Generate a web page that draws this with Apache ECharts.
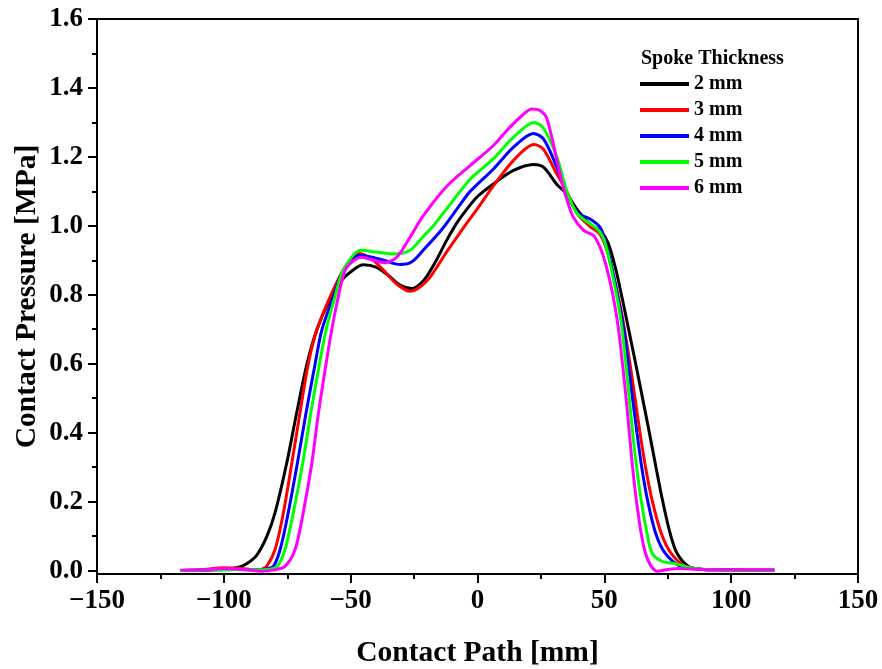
<!DOCTYPE html>
<html>
<head>
<meta charset="utf-8">
<script src="https://cdn.jsdelivr.net/npm/echarts@6/dist/echarts.min.js"></script>
<style>html,body{margin:0;padding:0;background:#fff}#c{width:882px;height:669px}</style>
</head>
<body>
<div id="c"></div>
<script>
// ---- data ----
const seriesNames = ['2 mm', '3 mm', '4 mm', '5 mm', '6 mm'];
const seriesColors = ['#000000', '#ff0000', '#0000ff', '#00ff00', '#ff00ff'];
const legendTitle = 'Spoke Thickness';
const xTitle = 'Contact Path [mm]';
const yTitle = 'Contact Pressure [MPa]';
const yMajorTicks = [0, 0.2, 0.4, 0.6, 0.8, 1.0, 1.2, 1.4, 1.6];
const yMinorTicks = [0.1, 0.3, 0.5, 0.7, 0.9, 1.1, 1.3, 1.5];

const x2 = [-117,-108,-100,-95,-91,-87,-83,-79.8,-75.2,-71.3,-67.2,-63.4,-58.9,-53.5,-49,-45,-40,-35,-30.5,-26,-21.4,-17,-12,-8,-4,0,6,14,22,26,31.3,35,40,45,48.5,51.5,54.3,57.2,59.9,62.6,65.2,67.8,70.3,72.9,75.9,78.6,83.2,88,95,105,117];
const y2 = [0,0.001,0.004,0.008,0.02,0.045,0.1,0.168,0.312,0.457,0.6,0.697,0.775,0.842,0.872,0.887,0.88,0.855,0.828,0.818,0.84,0.89,0.96,1.01,1.05,1.085,1.12,1.16,1.178,1.17,1.12,1.094,1.04,1.0,0.985,0.95,0.88,0.784,0.688,0.591,0.495,0.398,0.302,0.205,0.109,0.051,0.012,0.004,0.002,0.001,0.001];

const x3 = [-117,-108,-100,-93,-88,-85,-83.1,-79.8,-76.5,-73.2,-70,-66.7,-63.4,-58.1,-52.9,-47,-42,-37,-32,-26.6,-20,-12.1,-5,0,6.2,14.2,22.3,26,31.3,35.2,39.2,44.4,48,50.5,52.8,55,57,58.6,60.3,62.2,64.1,66.2,68.8,72.4,76.2,81.9,88,95,105,117];
const y3 = [0,0.003,0.008,0.006,0.003,0.004,0.012,0.061,0.168,0.312,0.457,0.6,0.697,0.794,0.871,0.92,0.905,0.871,0.832,0.81,0.84,0.925,1.0,1.05,1.115,1.19,1.236,1.222,1.15,1.1,1.036,0.998,0.978,0.94,0.88,0.81,0.74,0.67,0.591,0.495,0.398,0.302,0.205,0.109,0.051,0.012,0.004,0.002,0.001,0.001];

const x4 = [-117,-105,-95,-88,-84,-80.5,-77.8,-74.6,-71,-67.6,-64,-61.4,-56.8,-52.9,-47,-42,-37,-30.5,-26,-21.3,-14,-7,-2.9,6.3,14.2,22,26,31.3,36.5,40,44.4,48.3,50.3,52.3,54.2,56.1,57.9,59.6,61.2,62.9,64.7,67,70.2,73.9,80,88,95,105,117];
const y4 = [0,0.002,0.003,0.002,0.004,0.012,0.061,0.168,0.312,0.457,0.6,0.697,0.794,0.871,0.914,0.91,0.9,0.888,0.895,0.93,0.99,1.06,1.1,1.165,1.228,1.268,1.252,1.17,1.074,1.035,1.02,0.996,0.958,0.9,0.835,0.765,0.688,0.591,0.495,0.398,0.302,0.205,0.109,0.051,0.012,0.004,0.002,0.001,0.001];

const x5 = [-117,-105,-95,-88,-82,-78.9,-75.9,-72.6,-68.9,-65.7,-62.3,-59.7,-56.2,-52.9,-46,-40,-33,-26.6,-21.3,-17.4,-12.1,-2.9,6.3,14.2,22.3,26,31.3,35.2,39.2,44.4,48,50.3,52.3,54,55.7,57.2,58.6,59.9,61.2,62.7,64.5,66.8,68.8,72.7,78,84,90,100,117];
const y5 = [0,0.002,0.003,0.002,0.004,0.012,0.061,0.168,0.312,0.457,0.6,0.697,0.794,0.871,0.929,0.924,0.918,0.929,0.97,1.0,1.05,1.135,1.195,1.257,1.3,1.283,1.2,1.1,1.036,1.006,0.985,0.95,0.89,0.83,0.765,0.688,0.591,0.495,0.398,0.302,0.205,0.109,0.051,0.027,0.02,0.008,0.003,0.001,0.001];

const x6 = [-117,-108,-100,-92,-85,-80,-75.9,-71.9,-68.7,-65.3,-62.7,-59.7,-57.5,-54.9,-52.2,-49,-45.6,-41,-36.5,-31.8,-26.6,-21.3,-12.1,-2.9,6.3,11.5,16.8,21.4,24.5,27.3,31.3,33.5,35.5,37.8,41.8,45.7,48.3,50.3,52.2,54,55.6,57,58.3,59.6,61,62.6,64.5,66.2,68.5,71,75,80,88,100,117];
const y6 = [0.001,0.002,0.006,0.003,-0.002,0.002,0.012,0.061,0.168,0.312,0.457,0.6,0.697,0.794,0.871,0.898,0.909,0.9,0.893,0.909,0.967,1.03,1.115,1.175,1.233,1.276,1.315,1.339,1.335,1.312,1.19,1.12,1.07,1.025,0.987,0.972,0.938,0.895,0.84,0.775,0.70,0.61,0.52,0.42,0.31,0.205,0.109,0.051,0.012,-0.002,0.003,0.006,0.003,0.002,0.002];

const xs = [x2, x3, x4, x5, x6];
const ys = [y2, y3, y4, y5, y6];

// ---- chart ----
const FONT = '"Liberation Serif","Times New Roman",serif';
const chart = echarts.init(document.getElementById('c'), null, {renderer: 'canvas'});
const minusFmt = v => String(v).replace('-', '\u2212');

const series = seriesNames.map((n, i) => ({
  name: n,
  type: 'line',
  data: xs[i].map((x, j) => [x, ys[i][j]]),
  smooth: 0.3,
  symbol: 'none',
  lineStyle: {color: seriesColors[i], width: 3},
  itemStyle: {color: seriesColors[i]},
  xAxisIndex: 0,
  yAxisIndex: 0
}));

chart.setOption({
  animation: false,
  backgroundColor: '#fff',
  grid: {left: 97, top: 19, right: 24, bottom: 95, outerBoundsMode: 'none', containLabel: false,
    show: true, borderColor: '#000', borderWidth: 2, backgroundColor: 'transparent'},
  legend: {
    data: seriesNames,
    orient: 'vertical',
    left: 640, top: 74, padding: 0,
    itemWidth: 49, itemHeight: 14, itemGap: 6,
    textStyle: {fontFamily: FONT, fontWeight: 'bold', fontSize: 20, color: '#000'},
    icon: 'path://M0,6 L49,6 L49,10 L0,10 Z'
  },
  graphic: [{
    type: 'text', left: 641, top: 49,
    style: {text: legendTitle, font: 'bold 20px ' + FONT, fill: '#000'}
  }],
  xAxis: {
    type: 'value', min: -150, max: 150, interval: 50,
    name: xTitle, nameLocation: 'middle', nameGap: 64, nameMoveOverlap: false,
    nameTextStyle: {fontFamily: FONT, fontWeight: 'bold', fontSize: 29.5, color: '#000'},
    axisLine: {show: true, onZero: false, lineStyle: {color: '#000', width: 2}},
    axisTick: {show: true, inside: false, length: 9, lineStyle: {color: '#000', width: 2}},
    minorTick: {show: true, splitNumber: 2, length: 5, lineStyle: {color: '#000', width: 2}},
    axisLabel: {fontFamily: FONT, fontWeight: 'bold', fontSize: 27, color: '#000', margin: 14, formatter: minusFmt},
    splitLine: {show: false}
  },
  yAxis: [{
    type: 'value', min: -0.01, max: 1.6,
    name: yTitle, nameLocation: 'middle', nameGap: 55, nameMoveOverlap: false,
    nameTextStyle: {fontFamily: FONT, fontWeight: 'bold', fontSize: 29.5, color: '#000'},
    axisLine: {show: true, onZero: false, lineStyle: {color: '#000', width: 2}},
    axisTick: {show: true, inside: false, length: 9, customValues: yMajorTicks, lineStyle: {color: '#000', width: 2}},
    axisLabel: {fontFamily: FONT, fontWeight: 'bold', fontSize: 27, color: '#000', margin: 14,
      customValues: yMajorTicks, formatter: v => v.toFixed(1)},
    splitLine: {show: false}
  }, {
    type: 'value', min: -0.01, max: 1.6, position: 'left',
    axisLine: {show: false, onZero: false},
    axisTick: {show: true, inside: false, length: 5, customValues: yMinorTicks, lineStyle: {color: '#000', width: 2}},
    axisLabel: {show: false},
    splitLine: {show: false}
  }],
  series: series
});
</script>
</body>
</html>
